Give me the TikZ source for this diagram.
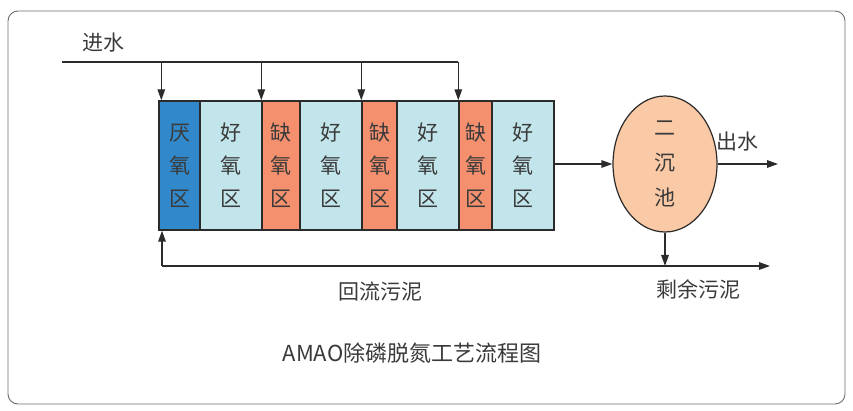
\documentclass[tikz,border=0pt]{standalone}
\usepackage{fontspec}
\setmainfont{Noto Sans CJK SC}
\usepackage{tikz}
\usetikzlibrary{arrows.meta,positioning,shapes.geometric,calc}
\usepackage{xcolor}
\definecolor{inkgray}{HTML}{2B2B2B}
\definecolor{textgray}{HTML}{3A3A3A}
\definecolor{framegray}{HTML}{6E6E6E}
\definecolor{anablue}{HTML}{3189CB}
\definecolor{aerolight}{HTML}{C2E5EB}
\definecolor{anoxcoral}{HTML}{F4906E}
\definecolor{clarpeach}{HTML}{FAC9A5}

\begin{document}
\begin{tikzpicture}[
  x=1pt, y=-1pt,
  font=\fontsize{21}{33}\selectfont,
  text=textgray,
  zone/.style={
    draw=inkgray,
    line width=1.4pt,
    inner sep=0pt,
    minimum height=129pt,
    align=center
  },
  clarifier/.style={
    ellipse,
    draw=inkgray,
    fill=clarpeach,
    line width=1.2pt,
    inner sep=0pt,
    minimum width=104pt,
    minimum height=136pt,
    align=center,
    font=\fontsize{21}{35}\selectfont
  },
  pipe/.style={
    line width=1.4pt,
    draw=inkgray
  },
  flow/.style={
    pipe,
    -{Triangle[length=11pt,width=7.5pt]}
  },
  caption/.style={
    inner sep=0pt,
    text=textgray
  }
]
  \useasboundingbox (0,0) rectangle (853,411);

  % outer card
  \draw[framegray, line width=0.9pt, rounded corners=10pt] (8,11) rectangle (845,404);

  % =========================================================================
  % REACTOR ZONES
  % =========================================================================
  \foreach \n/\xa/\xb/\col/\ch in {
      1/159/200/anablue/厌,
      2/200/262/aerolight/好,
      3/262/300/anoxcoral/缺,
      4/300/362/aerolight/好,
      5/362/397/anoxcoral/缺,
      6/397/459/aerolight/好,
      7/459/492/anoxcoral/缺,
      8/492/554/aerolight/好}{
    \pgfmathsetmacro{\w}{\xb-\xa}
    \pgfmathsetmacro{\xc}{(\xa+\xb)/2}
    \node[zone, fill=\col, minimum width=\w pt] (c\n) at (\xc,165.5) {\ch\\氧\\区};
  }

  % secondary clarifier
  \node[clarifier] (clar) at (665,164) {二\\沉\\池};

  % =========================================================================
  % INFLUENT STEP FEED
  % =========================================================================
  \coordinate (feed) at (62,62);
  \coordinate (c1in) at ($(c1.north west)+(3,0)$);
  \node[caption] (influent) at (103,43) {进水};
  \draw[pipe] (feed) -- (c7.north west |- feed);
  \draw[flow] (c1in |- feed) -- (c1in);
  \draw[flow] (c3.north west |- feed) -- (c3.north west);
  \draw[flow] (c5.north west |- feed) -- (c5.north west);
  \draw[flow] (c7.north west |- feed) -- (c7.north west);

  % tank to clarifier, effluent
  \draw[flow] (c8.east |- clar.west) -- (clar.west);
  \coordinate (effout) at (778,164);
  \draw[flow] (clar.east) -- (effout);
  \node[caption] (effluent) at (737,142) {出水};

  % =========================================================================
  % SLUDGE RETURN AND WASTE
  % =========================================================================
  \coordinate (retL) at (162,266);
  \coordinate (wasteout) at (770,266);
  \draw[flow] (retL) -- (wasteout);
  \draw[flow] (retL) -- (retL |- c1.south);
  \draw[flow] (clar.south) -- (clar.south |- retL);
  \node[caption] (returnlbl) at (380,292) {回流污泥};
  \node[caption] (wastelbl) at (698,289) {剩余污泥};

  % title
  \node[caption, font=\fontsize{22}{26}\selectfont] (title) at (412,353) {AMAO除磷脱氮工艺流程图};

\end{tikzpicture}
\end{document}
